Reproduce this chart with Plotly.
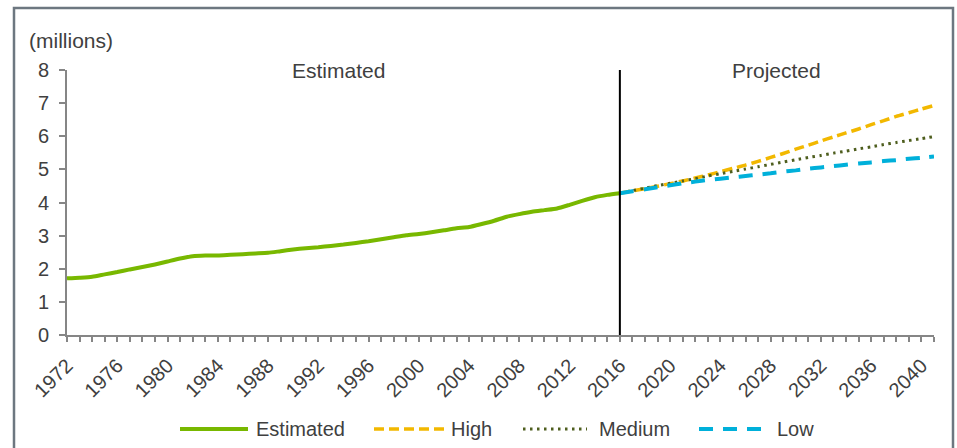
import plotly.graph_objects as go

# Population, millions
est_years = list(range(1972, 2017))
estimated = [1.71, 1.73, 1.76, 1.83, 1.90, 1.98, 2.05, 2.13, 2.22, 2.31,
             2.38, 2.40, 2.40, 2.42, 2.44, 2.46, 2.48, 2.53, 2.58, 2.62,
             2.65, 2.69, 2.73, 2.78, 2.83, 2.89, 2.95, 3.01, 3.05, 3.10,
             3.16, 3.22, 3.26, 3.35, 3.45, 3.57, 3.65, 3.72, 3.77, 3.82,
             3.93, 4.05, 4.16, 4.23, 4.28]

proj_years = list(range(2016, 2042))
high = [4.28, 4.35, 4.42, 4.49, 4.57, 4.65, 4.74, 4.83, 4.93, 5.03,
        5.13, 5.24, 5.36, 5.48, 5.61, 5.73, 5.86, 5.98, 6.10, 6.22,
        6.35, 6.47, 6.60, 6.71, 6.82, 6.93]
medium = [4.28, 4.36, 4.43, 4.51, 4.58, 4.65, 4.72, 4.80, 4.87, 4.94,
          5.01, 5.08, 5.15, 5.22, 5.29, 5.36, 5.42, 5.49, 5.55, 5.62,
          5.68, 5.75, 5.81, 5.87, 5.93, 5.99]
low = [4.28, 4.34, 4.40, 4.46, 4.52, 4.58, 4.63, 4.68, 4.72, 4.76,
       4.80, 4.84, 4.88, 4.93, 4.97, 5.02, 5.06, 5.10, 5.14, 5.18,
       5.21, 5.25, 5.28, 5.32, 5.35, 5.39]

tick_years = list(range(1972, 2041, 4))
y_ticks = list(range(0, 9))
split_year = 2016

FONT = "Liberation Sans, Arial, sans-serif"
TXT = "#404040"
AXIS = "#868686"

series = [
    ("Estimated", est_years, estimated, dict(color="#78b800", width=4, dash="solid")),
    ("High", proj_years, high, dict(color="#f2b800", width=3.5, dash="10px,5px")),
    ("Medium", proj_years, medium, dict(color="#4e5e1e", width=3, dash="2.5px,4.5px")),
    ("Low", proj_years, low, dict(color="#00b0da", width=4, dash="14px,10px")),
]

fig = go.Figure()
# projections drawn first so the estimated line sits on top
for name, xs, ys, line in series[1:] + series[:1]:
    fig.add_trace(go.Scatter(x=xs, y=ys, mode="lines", name=name,
                             line=dict(line, shape="spline", smoothing=0.6),
                             showlegend=False))

W, H = 957, 448
L, R, T, B = 67, 23, 70, 113
PW, PH = W - L - R, H - T - B

def px(x):
    return (x - L) / PW

def py(y):
    return (H - B - y) / PH

shapes = [
    # dividing line between estimates and projections
    dict(type="line", xref="x", yref="y", x0=split_year, x1=split_year,
         y0=0, y1=8, line=dict(color="black", width=2)),
    # frame
    dict(type="rect", xref="paper", yref="paper", x0=px(14), x1=px(953),
         y0=py(470), y1=py(8), line=dict(color="#6d7780", width=2.5)),
]

annotations = [
    dict(text="(millions)", xref="paper", yref="paper", x=px(27), y=py(40),
         xanchor="left", yanchor="middle", showarrow=False,
         font=dict(family=FONT, size=21, color=TXT)),
    dict(text="Estimated", xref="x", yref="y", x=(1972 + split_year) / 2, y=8,
         xanchor="center", yanchor="middle", showarrow=False, xshift=-5,
         font=dict(family=FONT, size=21, color=TXT)),
    dict(text="Projected", xref="x", yref="y", x=(split_year + 2041) / 2, y=8,
         xanchor="center", yanchor="middle", showarrow=False,
         font=dict(family=FONT, size=21, color=TXT)),
]

# legend row
legend_items = [(180, 248, 254), (374, 444, 449), (523, 587, 597), (699, 767, 775)]
ly = 429
for (name, _, _, line), (x0, x1, tx) in zip(series, legend_items):
    shapes.append(dict(type="line", xref="paper", yref="paper",
                       x0=px(x0), x1=px(x1), y0=py(ly), y1=py(ly), line=line))
    annotations.append(dict(text=name, xref="paper", yref="paper",
                            x=px(tx), y=py(ly), xanchor="left", yanchor="middle",
                            showarrow=False,
                            font=dict(family=FONT, size=20, color=TXT)))

fig.update_layout(
    width=W, height=H,
    margin=dict(l=L, r=R, t=T, b=B),
    paper_bgcolor="white", plot_bgcolor="white",
    font=dict(family=FONT, size=20, color=TXT),
    shapes=shapes, annotations=annotations,
)
fig.update_xaxes(
    range=[1972, 2041], tickmode="array", tickvals=tick_years,
    ticktext=[str(y) for y in tick_years], tickangle=-45,
    ticks="outside", ticklen=5, tickcolor=AXIS, tickwidth=1.5,
    minor=dict(dtick=1, tick0=1972, ticks="outside", ticklen=5,
               tickcolor=AXIS, tickwidth=1.5),
    showline=True, linecolor=AXIS, linewidth=2, showgrid=False, zeroline=False,
    ticklabelstandoff=4,
    tickfont=dict(family=FONT, size=20, color=TXT),
)
fig.update_yaxes(
    range=[0, 8], tickmode="array", tickvals=y_ticks,
    ticks="outside", ticklen=6, tickcolor=AXIS, tickwidth=1.5,
    showline=True, linecolor=AXIS, linewidth=2, showgrid=False, zeroline=False,
    ticklabelstandoff=6,
    tickfont=dict(family=FONT, size=20, color=TXT),
)

fig.write_html("out.html")
